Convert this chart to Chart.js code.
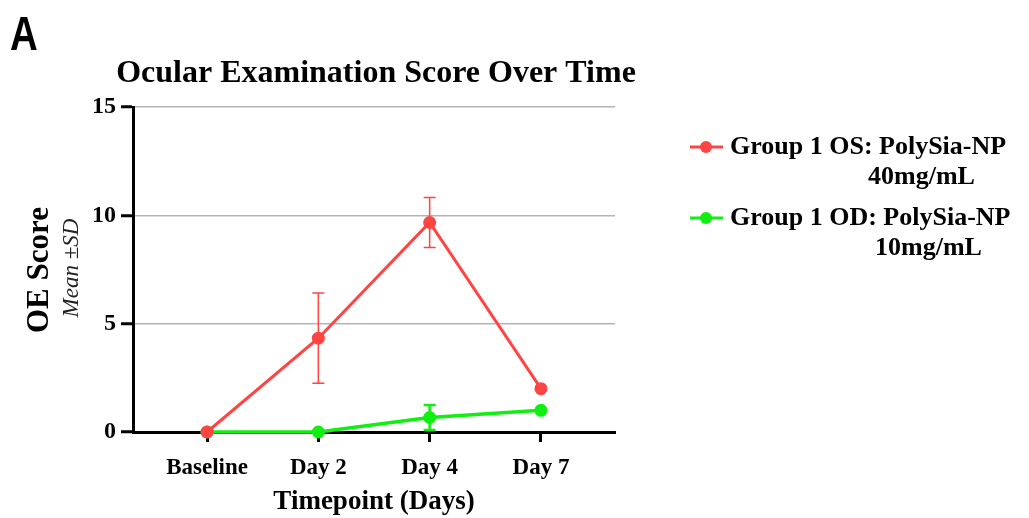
<!DOCTYPE html>
<html>
<head>
<meta charset="utf-8">
<script src="https://cdn.jsdelivr.net/npm/chart.js@4.4.1/dist/chart.umd.min.js"></script>
<style>
  body { margin: 0; background: #fff; }
  canvas { display: block; }
</style>
</head>
<body>
<canvas id="oeChart" width="1029" height="518"></canvas>
<script>
// data
var timepoints = ['Baseline', 'Day 2', 'Day 4', 'Day 7'];
var osMean = [0, 4.33, 9.67, 2];
var osSD = [0, 2.08, 1.15, 0];
var odMean = [0, 0, 0.67, 1];
var odSD = [0, 0, 0.58, 0];
var seriesNames = ['Group 1 OS: PolySia-NP', 'Group 1 OD: PolySia-NP'];
var seriesDoses = ['40mg/mL', '10mg/mL'];
var yTicks = [0, 5, 10, 15];

var serif = "'Liberation Serif', 'Times New Roman', serif";
var red = '#ff4444';
var green = '#11ee11';

function toPoints(arr) {
    return arr.map(function (v, i) { return { x: i, y: v }; });
}

// error bars (mean ± SD), drawn under the lines
var errorBars = {
    id: 'errorBars',
    beforeDatasetsDraw: function (chart) {
        var ctx = chart.ctx;
        var xs = chart.scales.x, ys = chart.scales.y;
        chart.data.datasets.forEach(function (ds) {
            ctx.save();
            ctx.strokeStyle = ds.borderColor;
            ctx.lineWidth = ds.errWidth;
            ds.sd.forEach(function (sd, i) {
                if (!sd) return;
                var m = ds.data[i].y;
                var px = xs.getPixelForValue(i);
                var top = ys.getPixelForValue(m + sd);
                var bot = ys.getPixelForValue(Math.max(0, m - sd));
                ctx.beginPath();
                ctx.moveTo(px, top); ctx.lineTo(px, bot);
                ctx.moveTo(px - 6, top); ctx.lineTo(px + 6, top);
                ctx.moveTo(px - 6, bot); ctx.lineTo(px + 6, bot);
                ctx.stroke();
            });
            ctx.restore();
        });
    }
};

// panel letter, title, y-axis titles and the two-line legend
var decorations = {
    id: 'decorations',
    afterDraw: function (chart) {
        var ctx = chart.ctx;
        ctx.save();
        ctx.fillStyle = '#000';

        ctx.save();
        ctx.translate(10, 50);
        ctx.scale(0.8, 1);
        ctx.font = "bold 48px 'Liberation Sans', Arial, sans-serif";
        ctx.textAlign = 'left';
        ctx.textBaseline = 'alphabetic';
        ctx.fillText('A', 0, 0);
        ctx.restore();

        ctx.font = 'bold 32px ' + serif;
        ctx.textAlign = 'center';
        ctx.textBaseline = 'alphabetic';
        ctx.fillText('Ocular Examination Score Over Time', 376, 82);

        ctx.save();
        ctx.translate(40, 270);
        ctx.rotate(-Math.PI / 2);
        ctx.textBaseline = 'middle';
        ctx.font = 'bold 31px ' + serif;
        ctx.fillText('OE Score', 0, 0);
        ctx.restore();

        ctx.save();
        ctx.translate(72, 268);
        ctx.rotate(-Math.PI / 2);
        ctx.textBaseline = 'middle';
        ctx.font = 'italic 23px ' + serif;
        ctx.fillStyle = '#222';
        ctx.fillText('Mean \u00b1SD', 0, 0);
        ctx.restore();

        var rows = [147, 218];
        var secondX = [868, 875];
        chart.data.datasets.forEach(function (ds, i) {
            var y = rows[i];
            ctx.strokeStyle = ds.borderColor;
            ctx.lineWidth = 3;
            ctx.beginPath();
            ctx.moveTo(690, y); ctx.lineTo(723, y);
            ctx.stroke();
            ctx.fillStyle = ds.borderColor;
            ctx.beginPath();
            ctx.arc(706, y, 6, 0, Math.PI * 2);
            ctx.fill();
            ctx.fillStyle = '#000';
            ctx.font = 'bold 26px ' + serif;
            ctx.textAlign = 'left';
            ctx.textBaseline = 'middle';
            ctx.fillText(seriesNames[i], 730, y);
            ctx.fillText(seriesDoses[i], secondX[i], y + 30);
        });
        ctx.restore();
    }
};

var ctx = document.getElementById('oeChart').getContext('2d');
var oeChart = new Chart(ctx, {
    type: 'line',
    data: {
        datasets: [{
            label: seriesNames[0] + ' ' + seriesDoses[0],
            data: toPoints(osMean),
            sd: osSD,
            errWidth: 1.5,
            borderColor: red,
            backgroundColor: red,
            borderWidth: 3,
            pointRadius: 6.5,
            pointBorderWidth: 0,
            tension: 0
        }, {
            label: seriesNames[1] + ' ' + seriesDoses[1],
            data: toPoints(odMean),
            sd: odSD,
            errWidth: 2.5,
            borderColor: green,
            backgroundColor: green,
            borderWidth: 3.5,
            pointRadius: 6.5,
            pointBorderWidth: 0,
            tension: 0
        }]
    },
    options: {
        responsive: false,
        animation: false,
        clip: false,
        layout: { padding: { top: 107, right: 414, bottom: 0, left: 0 } },
        scales: {
            x: {
                type: 'linear',
                min: -0.665,
                max: 3.665,
                afterBuildTicks: function (scale) {
                    scale.ticks = timepoints.map(function (t, i) { return { value: i }; });
                },
                afterFit: function (scale) { scale.height = 86; },
                ticks: {
                    callback: function (v) { return timepoints[v]; },
                    color: '#000',
                    font: { family: serif, size: 23, weight: 'bold' },
                    padding: 12,
                    maxRotation: 0
                },
                grid: {
                    drawOnChartArea: false,
                    tickLength: 10,
                    tickColor: '#000',
                    tickWidth: 3
                },
                border: { color: '#000', width: 3 },
                title: {
                    display: true,
                    text: 'Timepoint (Days)',
                    color: '#000',
                    font: { family: serif, size: 27, weight: 'bold' },
                    padding: { top: 4, bottom: 0 }
                }
            },
            y: {
                min: 0,
                max: 15,
                afterBuildTicks: function (scale) {
                    scale.ticks = yTicks.map(function (v) { return { value: v }; });
                },
                afterFit: function (scale) { scale.width = 133; },
                ticks: {
                    color: '#000',
                    font: { family: serif, size: 24, weight: 'bold' },
                    padding: 5
                },
                grid: {
                    color: function (c) { return c.tick && c.tick.value === 0 ? 'rgba(0,0,0,0)' : '#b4b4b4'; },
                    lineWidth: 1.5,
                    tickLength: 12,
                    tickColor: '#000',
                    tickWidth: 3
                },
                border: { color: '#000', width: 3 }
            }
        },
        plugins: {
            legend: { display: false },
            title: { display: false },
            tooltip: { enabled: false }
        }
    },
    plugins: [errorBars, decorations]
});
</script>
</body>
</html>
